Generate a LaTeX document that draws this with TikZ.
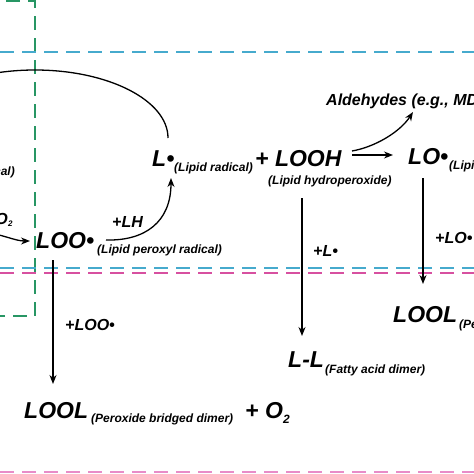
\documentclass[tikz,border=0pt]{standalone}
\usepackage{fontspec}
\setmainfont{Liberation Sans}
\usetikzlibrary{arrows.meta}
\definecolor{cyanl}{RGB}{70,170,205}
\definecolor{pinkm}{RGB}{215,80,160}
\definecolor{pinkl}{RGB}{232,140,200}
\definecolor{greenl}{RGB}{40,150,100}
\begin{document}
\begin{tikzpicture}[x=1pt,y=-1pt,
  big/.style={font=\fontsize{23}{24}\selectfont\bfseries\itshape, inner sep=0pt, anchor=base west},
  sub/.style={font=\fontsize{12}{13}\selectfont\bfseries\itshape, inner sep=0pt, anchor=base west},
  lab/.style={font=\fontsize{16}{17}\selectfont\bfseries\itshape, inner sep=0pt, anchor=base west},
  conn/.style={line width=1.3pt, black},
  arr/.style={conn, -{Stealth[length=9pt,width=7pt]}},
  dashline/.style={line width=1.6pt, dash pattern=on 14pt off 8pt}]
\useasboundingbox (0,0) rectangle (474,474);
\clip (0,0) rectangle (474,474);

% dashed guide lines
\draw[dashline, greenl] (-60,1) -- (35,1) -- (35,316) -- (-60,316);
\draw[dashline, cyanl] (0,52) -- (474,52);
\draw[dashline, cyanl] (0,268) -- (474,268);
\draw[dashline, pinkm] (0,273) -- (474,273);
\draw[dashline, pinkl] (0,472) -- (474,472);

% texts
\node[big] (Lrad) at (152,166) {L•};
\node[sub] (Lradsub) at (174,171) {(Lipid radical)};
\node[big] (LOOH) at (255,166) {+ LOOH};
\node[sub] (LOOHsub) at (268,184) {(Lipid hydroperoxide)};
\node[big] (LOrad) at (408,164) {LO•};
\node[sub] (LOradsub) at (449,169) {(Lipid alkoxyl radical)};
\node[lab] (ald) at (326,105) {Aldehydes (e.g., MDA)};
\node[big] (LOO) at (36,248) {LOO•};
\node[sub] (LOOsub) at (97,253) {(Lipid peroxyl radical)};
\node[lab] (LH) at (112,227) {+LH};
\node[lab] (pLOO) at (65,330) {+LOO•};
\node[big] (LOOL1) at (24,418) {LOOL};
\node[sub] (LOOL1sub) at (91,422) {(Peroxide bridged dimer)};
\node[big] (O2) at (245,418) {+ O};
\node[sub] (O2sub) at (283,423) {2};
\node[lab] (pL) at (313,256) {+L•};
\node[big] (LL) at (288,367) {L-L};
\node[sub] (LLsub) at (325,373) {(Fatty acid dimer)};
\node[lab] (pLO) at (435,243) {+LO•};
\node[big] (LOOL2) at (393,322) {LOOL};
\node[sub] (LOOL2sub) at (459,328) {(Peroxide bridged dimer)};
\node[sub, anchor=base east] (leftsub) at (15,175) {(Lipid radical)};
\node[lab, anchor=base east] (leftO) at (8,224) {+O};
\node[sub, font=\fontsize{8}{9}\selectfont\bfseries\itshape] (leftOs) at (8,226) {2};

% connector end points
\coordinate (arcR) at (168,138);
\coordinate (inL) at (-20,231);
\coordinate (inR) at (30,241);
\coordinate (cycS) at (106,240);
\coordinate (cycE) at (171,178);
\coordinate (hS) at (352,155);
\coordinate (hE) at (393,155);
\coordinate (aS) at (352,151);
\coordinate (aE) at (413,112);
\coordinate (v1S) at (302,198);
\coordinate (v1E) at (302,336);
\coordinate (v2S) at (423,178);
\coordinate (v2E) at (423,284);
\coordinate (v3S) at (53,260);
\coordinate (v3E) at (53,384);

% connectors
\draw[conn] (arcR) arc[start angle=0, end angle=-180, x radius=133, y radius=68];
\draw[arr] (inL) .. controls (5,235) and (15,241) .. (inR);
\draw[arr] (cycS) .. controls (145,241) and (171,222) .. (cycE);
\draw[arr] (hS) -- (hE);
\draw[arr] (aS) .. controls (375,147) and (400,132) .. (aE);
\draw[arr] (v1S) -- (v1E);
\draw[arr] (v2S) -- (v2E);
\draw[arr] (v3S) -- (v3E);
\end{tikzpicture}
\end{document}
